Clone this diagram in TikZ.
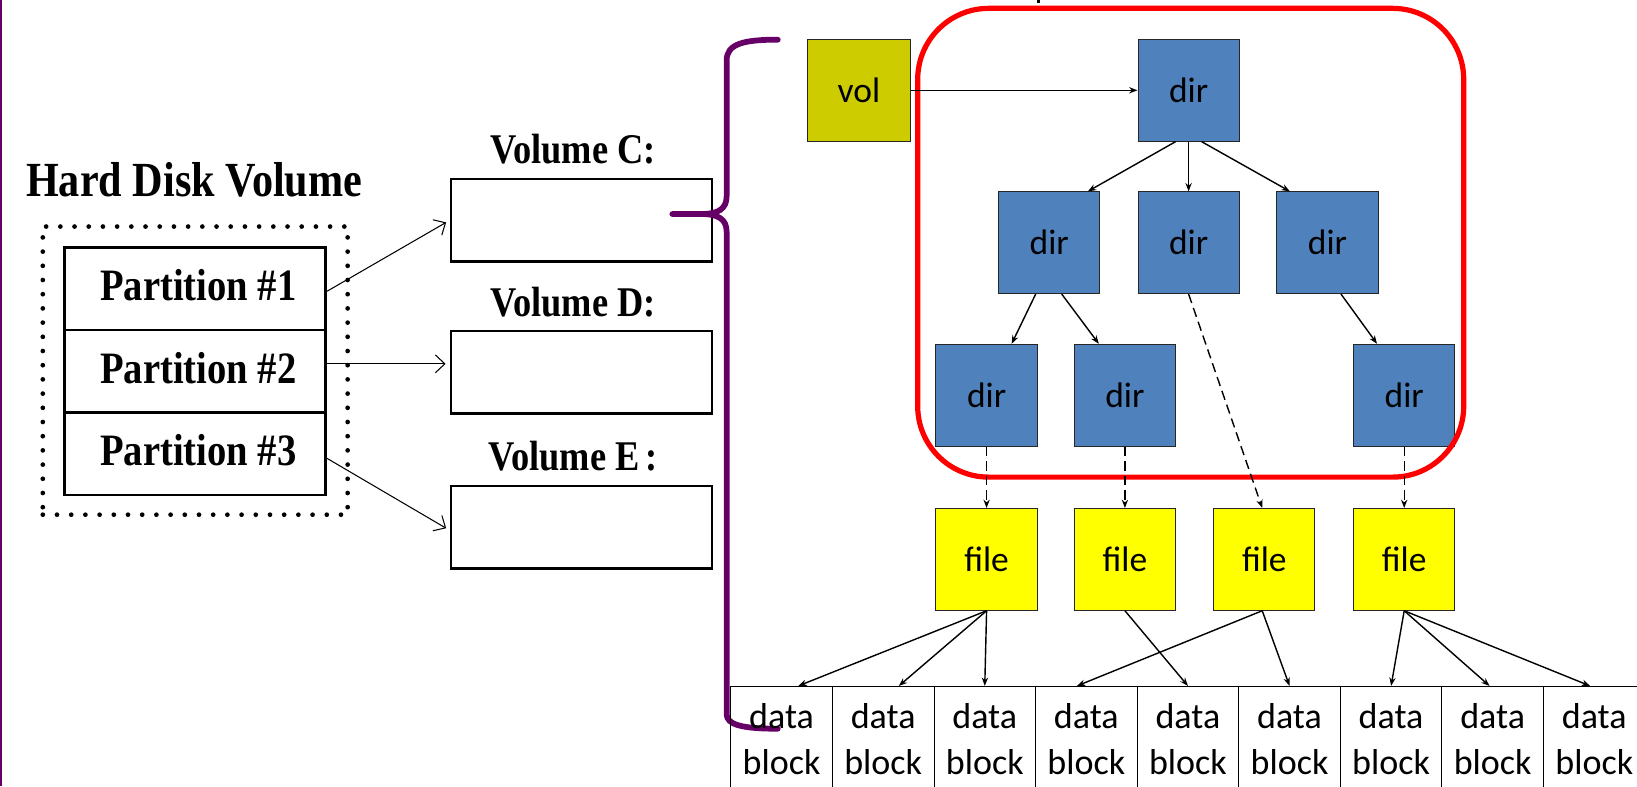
\documentclass[tikz,border=0pt]{standalone}
\usepackage{fontspec}
\setmainfont{Liberation Serif}
\newfontfamily\calfont{Carlito}
\usetikzlibrary{arrows.meta}
\definecolor{dirblue}{HTML}{4F81BD}
\definecolor{vololive}{HTML}{CCCC00}
\definecolor{fileyellow}{HTML}{FFFF00}
\definecolor{bracepurple}{RGB}{102,0,102}
\newcommand{\cond}[1]{\scalebox{0.86}[1]{#1}}
\begin{document}
\begin{tikzpicture}[x=1pt,y=-1pt,
  tbox/.style={draw=black!85, line width=0.9pt, minimum width=97pt, minimum height=97.5pt,
    inner sep=0pt, font=\calfont\fontsize{34}{40}\selectfont},
  dirbox/.style={tbox, fill=dirblue},
  volnode/.style={tbox, fill=vololive, minimum width=98.5pt},
  filebox/.style={tbox, fill=fileyellow},
  cell/.style={draw=black, line width=0.9pt, minimum width=97.3pt, minimum height=130pt,
    inner sep=0pt, anchor=north},
  celltext/.style={align=center, inner sep=0pt, font=\calfont\fontsize{34.5}{44}\selectfont},
  tarrow/.style={line width=1.35pt, -{Stealth[length=8pt,width=6pt]}},
  tdash/.style={tarrow, dash pattern=on 9pt off 5pt},
  part/.style={draw=black, line width=2.4pt, minimum width=250pt, minimum height=79pt, inner sep=0pt},
  volrect/.style={draw=black, line width=2.4pt, minimum width=250pt, minimum height=79pt, inner sep=0pt},
  serifbold/.style={inner sep=0pt, anchor=base},
  larrow/.style={line width=1pt, shorten >=4pt, -{Straight Barb[length=9pt,width=17pt,line width=1pt]}},
  brace/.style={draw=bracepurple, line width=5.5pt, line cap=round, line join=round}
]
\useasboundingbox (0,0) rectangle (1568,753);

% left frame line
\draw[bracepurple, line width=2.2pt] (1.1,0) -- (1.1,753);
% fragment of a cut-off glyph at the top edge
\fill[black] (993,0) rectangle (996,2.5);

% ---------- hard disk with its partitions ----------
\node[serifbold] (hdv) at (186,188) {\cond{\fontsize{47}{52}\selectfont\bfseries Hard Disk Volume}};
\node[draw=black, line width=4.5pt, dash pattern=on 0pt off 13.6pt, line cap=round,
      minimum width=292pt, minimum height=276pt, inner sep=0pt] (hdd) at (187,355) {};
\node[part] (p1) at (187,276.5) {};
\node[part] (p2) at (187,355.5) {};
\node[part] (p3) at (187,434.5) {};
\node[serifbold] (p1t) at (190,288) {\cond{\fontsize{43}{48}\selectfont\bfseries Partition \#1}};
\node[serifbold] (p2t) at (190,367) {\cond{\fontsize{43}{48}\selectfont\bfseries Partition \#2}};
\node[serifbold] (p3t) at (190,446) {\cond{\fontsize{43}{48}\selectfont\bfseries Partition \#3}};

% ---------- volumes ----------
\node[serifbold] (vct) at (549,157) {\cond{\fontsize{40.5}{46}\selectfont\bfseries Volume C:}};
\node[serifbold] (vdt) at (549,303) {\cond{\fontsize{40.5}{46}\selectfont\bfseries Volume D:}};
\node[serifbold] (vet) at (549,451) {\cond{\fontsize{40.5}{46}\selectfont\bfseries Volume E\,:}};
\node[volrect] (vc) at (557,211) {};
\node[volrect] (vd) at (557,356.5) {};
\node[volrect] (ve) at (557,505) {};

\draw[larrow] ([yshift=-2.5pt]p1.east) -- (vc.west);
\draw[larrow] ([yshift=7pt]p2.east) -- ([yshift=8pt]vd.west);
\draw[larrow] ([yshift=-4.5pt]p3.east) -- ([yshift=-3pt]ve.west);

% ---------- brace from volume C to its tree ----------
\draw[brace] (745,38) .. controls (712,38) and (696,42) .. (696,58) -- (696,188)
  .. controls (696,200) and (688,205) .. (672,205) -- (644,205);
\draw[brace] (672,205) .. controls (688,205) and (696,210) .. (696,222) -- (696,684)
  .. controls (696,694) and (710,698) .. (745,698);

% ---------- directory tree ----------
\node[volnode] (vol) at (822.8,86.5) {vol};
\node[dirbox] (d0) at (1138.5,86.5) {dir};
\node[dirbox] (d1) at (1005,232.5) {dir};
\node[dirbox] (d2) at (1138.5,232.5) {dir};
\node[dirbox] (d3) at (1271.5,232.5) {dir};
\node[dirbox] (d4) at (945,378.5) {dir};
\node[dirbox] (d5) at (1077.5,378.5) {dir};
\node[dirbox] (d6) at (1345,378.5) {dir};
\node[filebox] (f1) at (945,535.8) {file};
\node[filebox] (f2) at (1077.5,535.8) {file};
\node[filebox] (f3) at (1211,535.8) {file};
\node[filebox] (f4) at (1345,535.8) {file};

% volume C region of the tree
\draw[red, line width=5pt, rounded corners=68pt] (879,8) rectangle (1402,457);

% ---------- data blocks ----------
\foreach \i in {1,...,9} {
  \node[cell] (b\i) at ({700+97.3*(\i-0.5)},657) {};
  \node[celltext] (t\i) at ([yshift=-51pt]b\i.north) {data\\block};
}

% ---------- links ----------
\draw[tarrow] (vol.east) -- (d0.west);
\draw[tarrow] ([xshift=-12.5pt]d0.south) -- ([xshift=37pt]d1.north);
\draw[tarrow] (d0.south) -- (d2.north);
\draw[tarrow] ([xshift=12.5pt]d0.south) -- ([xshift=-36pt]d3.north);
\draw[tarrow] ([xshift=-13pt]d1.south) -- ([xshift=24pt]d4.north);
\draw[tarrow] ([xshift=12pt]d1.south) -- ([xshift=-25pt]d5.north);
\draw[tarrow] ([xshift=13pt]d3.south) -- ([xshift=-26pt]d6.north);
\draw[tdash] (d2.south) -- ([xshift=-2pt]f3.north);
\draw[tdash] (d4.south) -- (f1.north);
\draw[tdash] (d5.south) -- (f2.north);
\draw[tdash] (d6.south) -- (f4.north);

\draw[tarrow] (f1.south) -- ([xshift=16pt]b1.north);
\draw[tarrow] (f1.south) -- ([xshift=15pt]b2.north);
\draw[tarrow] (f1.south) -- (b3.north);
\draw[tarrow] (f2.south) -- (b5.north);
\draw[tarrow] ([xshift=-2pt]f3.south) -- ([xshift=-9pt]b4.north);
\draw[tarrow] ([xshift=-2pt]f3.south) -- (b6.north);
\draw[tarrow] (f4.south) -- (b7.north);
\draw[tarrow] (f4.south) -- ([xshift=-3pt]b8.north);
\draw[tarrow] (f4.south) -- ([xshift=-4pt]b9.north);
\end{tikzpicture}
\end{document}
